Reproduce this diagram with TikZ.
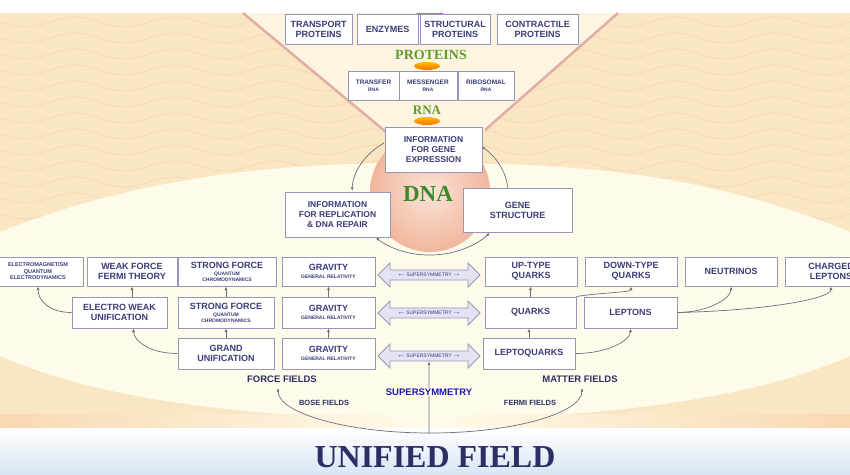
\documentclass[tikz,border=0pt]{standalone}
\usepackage{fontspec}
\setmainfont{Liberation Serif}
\newfontfamily\labelfont{Liberation Sans}
\usetikzlibrary{shapes.arrows,arrows.meta}

\definecolor{peach}{HTML}{FBE6C4}
\definecolor{wave}{HTML}{F3D8B2}
\definecolor{cream}{HTML}{FFFBEA}
\definecolor{vfill}{HTML}{FEF4E2}
\definecolor{vline}{HTML}{DFAEA4}
\definecolor{boxline}{HTML}{9696B8}
\definecolor{boxtext}{HTML}{3A3C78}
\definecolor{navy}{HTML}{2C2F66}
\definecolor{leaf}{HTML}{5E9D2C}
\definecolor{dnagreen}{HTML}{3E8A2A}
\definecolor{linegray}{HTML}{6E6E80}
\definecolor{ssfill}{HTML}{E3E3F3}
\definecolor{skyblue}{HTML}{D8E6F4}
\definecolor{band}{HTML}{F8D9B2}
\definecolor{dnain}{HTML}{FBE3D6}
\definecolor{dnaout}{HTML}{F1B69C}

\newcommand{\sm}[1]{{\fontsize{5}{5}\selectfont #1}}

\begin{document}
\begin{tikzpicture}[x=1pt, y=-1pt,
  box/.style={draw=boxline, fill=white, line width=1pt, inner sep=1pt, align=center,
    text=boxtext, font=\labelfont\bfseries\fontsize{9}{10}\selectfont},
  bx/.style 2 args={box, minimum width=#1, minimum height=#2},
  rnabox/.style={box, font=\labelfont\bfseries\fontsize{6.5}{7}\selectfont, minimum height=29},
  susy/.style={double arrow, draw=boxline, fill=ssfill, line width=0.8pt, inner sep=1.5pt,
    minimum height=102, minimum width=24, double arrow head extend=5pt,
    text=boxtext, font=\labelfont\fontsize{5}{5}\selectfont},
  con/.style={draw=linegray, line width=0.7pt, -{Latex[length=3.5pt,width=3pt]}},
  title/.style={font=\bfseries\fontsize{14}{14}\selectfont, text=leaf, inner sep=0pt},
  field/.style={text=navy, font=\labelfont\bfseries\fontsize{9.5}{10}\selectfont, inner sep=1pt}]

\useasboundingbox (0,0) rectangle (850,474);
\clip (0,0) rectangle (850,474);

% background
\fill[peach] (0,13) rectangle (850,474);
\foreach \w in {22,38,...,214}
  \draw[wave, line width=0.8pt] plot[domain=0:850, samples=90, smooth] (\x,{\w+5*sin(3.6*\x)});
\fill[cream] (0,232) .. controls (150,172) and (300,162) .. (430,163)
  .. controls (560,163) and (700,170) .. (850,232) -- (850,356)
  .. controls (750,400) and (600,418) .. (425,420)
  .. controls (250,418) and (100,400) .. (0,356) -- cycle;
\fill[vfill] (243,13) -- (618,13) -- (485,130) -- (386,132) -- cycle;
\draw[vline, line width=2.5pt] (243,13) -- (386,132);
\draw[vline, line width=2.5pt] (618,13) -- (485,130);
\shade[left color=band, right color=band, middle color=cream] (0,414) rectangle (850,430);
\shade[top color=white, bottom color=skyblue] (0,428) rectangle (850,474);

% proteins and rna
\fill[orange!85!red] (416,13) .. controls (423,18) and (437,18) .. (444,13) -- cycle;
\node[bx={67}{30}] (tp) at (318.5,29) {TRANSPORT\\PROTEINS};
\node[bx={61}{30}] (enz) at (387.5,29) {ENZYMES};
\node[bx={70}{30}] (st) at (455,29) {STRUCTURAL\\PROTEINS};
\node[bx={81}{30}] (ct) at (537.5,29) {CONTRACTILE\\PROTEINS};
\node[title] (prot) at (431,55) {PROTEINS};
\shade[top color=orange!50!yellow, bottom color=orange!85!red] (427,66) ellipse [x radius=13, y radius=4];
\node[rnabox, minimum width=51] (trna) at (373.5,85.5) {TRANSFER\\\sm{RNA}};
\node[rnabox, minimum width=58] (mrna) at (428,85.5) {MESSENGER\\\sm{RNA}};
\node[rnabox, minimum width=56] (rrna) at (486,85.5) {RIBOSOMAL\\\sm{RNA}};
\node[title, font=\bfseries\fontsize{13}{13}\selectfont] (rnat) at (427,110) {RNA};
\shade[top color=orange!50!yellow, bottom color=orange!85!red] (427,121) ellipse [x radius=13, y radius=4];

% dna cycle
\shade[inner color=dnain, outer color=dnaout] (430,192) circle (60);
\draw[con] (430,193) ++(-5:78 and 62) arc[start angle=-5, end angle=-49, x radius=78, y radius=62];
\draw[con] (430,193) ++(-126:78 and 62) arc[start angle=-126, end angle=-178, x radius=78, y radius=62];
\draw[con, {Latex[length=3.5pt,width=3pt]}-{Latex[length=3.5pt,width=3pt]}] (430,193) ++(134:78 and 62)
  arc[start angle=134, end angle=40, x radius=78, y radius=62];
\node[bx={97}{45}, font=\labelfont\bfseries\fontsize{8.5}{10}\selectfont] (ge) at (433.5,149.5) {INFORMATION\\FOR GENE\\EXPRESSION};
\node[bx={105}{45}, font=\labelfont\bfseries\fontsize{8.5}{10}\selectfont] (rep) at (337.5,214.5) {INFORMATION\\FOR REPLICATION\\\& DNA REPAIR};
\node[bx={109}{44}] (gs) at (517.5,210) {GENE\\STRUCTURE};
\node[font=\bfseries\fontsize{23}{23}\selectfont, text=dnagreen, inner sep=0pt] (dnat) at (428,194) {DNA};

% forces
\node[bx={90}{29}, font=\labelfont\bfseries\fontsize{5.5}{6.5}\selectfont] (em) at (38,271.5) {ELECTROMAGNETISM\\QUANTUM\\ELECTRODYNAMICS};
\node[bx={90}{29}] (wf) at (132,271.5) {WEAK FORCE\\FERMI THEORY};
\node[bx={98}{29}] (sf1) at (227,271.5) {STRONG FORCE\\[-3pt]\sm{QUANTUM}\\[-4pt]\sm{CHROMODYNAMICS}};
\node[bx={93}{29}] (gr1) at (328.5,271.5) {GRAVITY\\[-2pt]\sm{GENERAL RELATIVITY}};
\node[bx={95}{31}] (ew) at (119.5,312.5) {ELECTRO WEAK\\UNIFICATION};
\node[bx={96}{31}] (sf2) at (226,312.5) {STRONG FORCE\\[-3pt]\sm{QUANTUM}\\[-4pt]\sm{CHROMODYNAMICS}};
\node[bx={93}{31}] (gr2) at (328.5,312.5) {GRAVITY\\[-2pt]\sm{GENERAL RELATIVITY}};
\node[bx={96}{31}] (gu) at (226,353.5) {GRAND\\UNIFICATION};
\node[bx={93}{31}] (gr3) at (328.5,353.5) {GRAVITY\\[-2pt]\sm{GENERAL RELATIVITY}};

% supersymmetry
\node[susy] (ss1) at (429,275) {$\leftarrow$ SUPERSYMMETRY $\rightarrow$};
\node[susy] (ss2) at (429,313) {$\leftarrow$ SUPERSYMMETRY $\rightarrow$};
\node[susy] (ss3) at (429,356) {$\leftarrow$ SUPERSYMMETRY $\rightarrow$};

% matter
\node[bx={92}{29}] (up) at (531,271.5) {UP-TYPE\\QUARKS};
\node[bx={92}{29}] (dn) at (631,271.5) {DOWN-TYPE\\QUARKS};
\node[bx={92}{29}] (nu) at (731,271.5) {NEUTRINOS};
\node[bx={92}{29}] (ch) at (831,271.5) {CHARGED\\LEPTONS};
\node[bx={91}{31}] (qk) at (530.5,312.5) {QUARKS};
\node[bx={93}{31}] (lp) at (630.5,312.5) {LEPTONS};
\node[bx={92}{31}] (lq) at (529,353.5) {LEPTOQUARKS};

% links between rows
\draw[con] (ew.west) .. controls +(-22,0) and +(0,14) .. (em.south);
\draw[con] (ew.north -| wf.south) -- (wf.south);
\draw[con] (sf2.north) -- (sf2.north |- sf1.south);
\draw[con] (gr2.north) -- (gr1.south);
\draw[con] (gu.north) -- (sf2.south);
\draw[con] (gr3.north) -- (gr2.south);
\draw[con] (gu.west) .. controls +(-28,0) and +(0,12) .. ([xshift=14pt]ew.south);
\draw[con] (qk.north) -- (qk.north |- up.south);
\draw[con] (lq.north) -- (lq.north |- qk.south);
\draw[con] (qk.north east) .. controls +(25,-4) and +(0,6) .. (dn.south);
\draw[con] (lp.east) .. controls +(30,0) and +(0,12) .. (nu.south);
\draw[con] (lp.east) .. controls +(90,-2) and +(0,12) .. (ch.south);
\draw[con] (lq.east) .. controls +(32,0) and +(0,12) .. (lp.south);

% fields
\coordinate (base) at (429,433);
\coordinate (bosetip) at (278,388);
\draw[con] (base) -- (ss3.south);
\draw[con, {Latex[length=3.5pt,width=3pt]}-{Latex[length=3.5pt,width=3pt]}] (bosetip)
  arc[start angle=180, end angle=0, x radius=152, y radius=45];
\node[field] (ff) at (282,379) {FORCE FIELDS};
\node[field] (mf) at (580,379) {MATTER FIELDS};
\node[field, fill=cream, text=blue!45!navy] (sst) at (429,392) {SUPERSYMMETRY};
\node[field, font=\labelfont\bfseries\fontsize{7.5}{8}\selectfont] (bf) at (324,403) {BOSE FIELDS};
\node[field, font=\labelfont\bfseries\fontsize{7.5}{8}\selectfont] (fmf) at (530,403) {FERMI FIELDS};

\node[font=\bfseries\fontsize{32}{32}\selectfont, text=navy, inner sep=0pt] (uf) at (435,457) {UNIFIED FIELD};

\end{tikzpicture}
\end{document}
